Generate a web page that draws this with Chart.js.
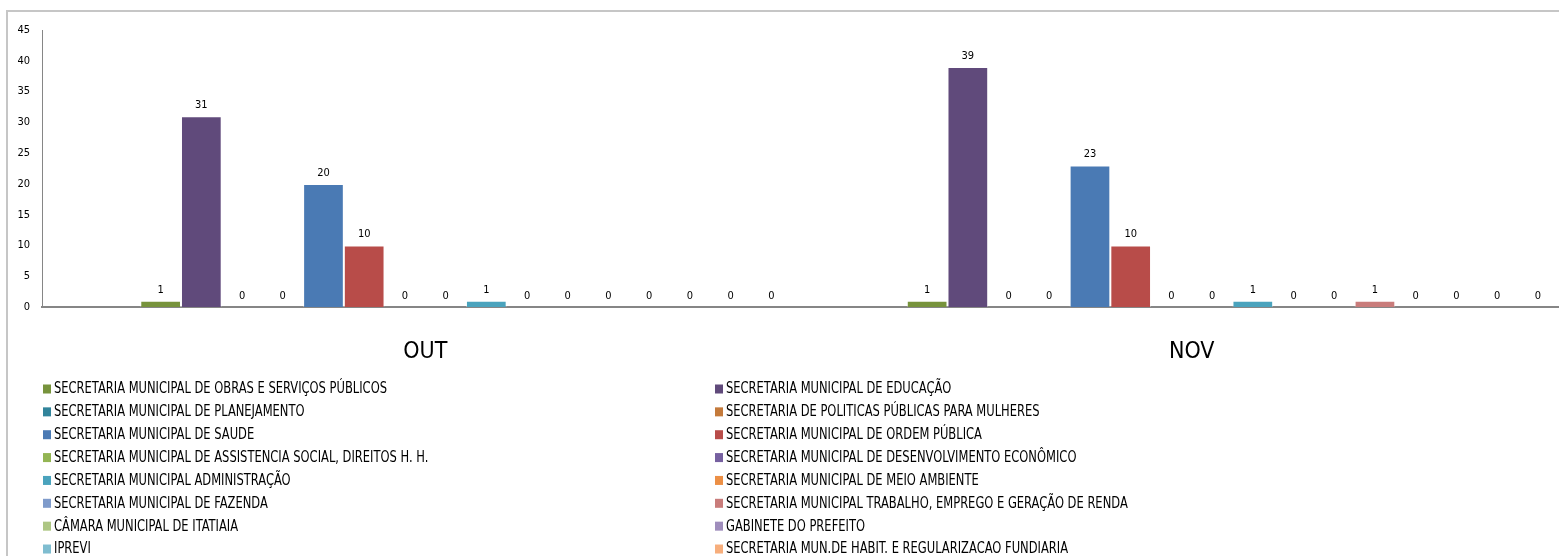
<!DOCTYPE html>
<html>
<head>
<meta charset="utf-8">
<script src="https://cdn.jsdelivr.net/npm/chart.js"></script>
<style>
  html, body { margin: 0; padding: 0; background: #fff; overflow: hidden; }
  #wrap { position: absolute; left: 0; top: 0; width: 1559px; height: 556px; overflow: hidden; }
</style>
</head>
<body>
<div id="wrap"><canvas id="chart" width="1600" height="556"></canvas></div>
<script>
const FONT = '"Liberation Sans Narrow", "DejaVu Sans Condensed", "Open Sans", sans-serif';

const months = ['OUT', 'NOV'];

// the two first series are empty in the sheet (they keep their slot in each group)
const secretarias = [
  '',
  '',
  'SECRETARIA MUNICIPAL DE OBRAS E SERVIÇOS PÚBLICOS',
  'SECRETARIA MUNICIPAL DE EDUCAÇÃO',
  'SECRETARIA MUNICIPAL DE PLANEJAMENTO',
  'SECRETARIA DE POLITICAS PÚBLICAS PARA MULHERES',
  'SECRETARIA MUNICIPAL DE SAUDE',
  'SECRETARIA MUNICIPAL DE ORDEM PÚBLICA',
  'SECRETARIA MUNICIPAL DE ASSISTENCIA SOCIAL, DIREITOS H. H.',
  'SECRETARIA MUNICIPAL DE DESENVOLVIMENTO ECONÔMICO',
  'SECRETARIA MUNICIPAL ADMINISTRAÇÃO',
  'SECRETARIA MUNICIPAL DE MEIO AMBIENTE',
  'SECRETARIA MUNICIPAL DE FAZENDA',
  'SECRETARIA MUNICIPAL TRABALHO, EMPREGO E GERAÇÃO DE RENDA',
  'CÂMARA MUNICIPAL DE ITATIAIA',
  'GABINETE DO PREFEITO',
  'IPREVI',
  'SECRETARIA MUN.DE HABIT. E REGULARIZACAO FUNDIARIA',
];

const valoresOut = [null, null, 1, 31, 0, 0, 20, 10, 0, 0, 1, 0, 0, 0, 0, 0, 0, 0];
const valoresNov = [null, null, 1, 39, 0, 0, 23, 10, 0, 0, 1, 0, 0, 1, 0, 0, 0, 0];

const cores = [
  '#385d8a', '#8c3836',
  '#77933c', '#604a7b', '#31849b', '#c47a3b',
  '#4a7ab4', '#b84c49', '#93b553', '#7660a0',
  '#4aa3bd', '#ec8f45', '#7f9bcb', '#c97c7b',
  '#adc683', '#9f8dbc', '#7fbdd0', '#f7ae7c',
];

const yMax = 45;
const yStep = 5;

// outer chart border (only left and top are inside the picture)
const frame = {
  id: 'frame',
  beforeDraw(chart) {
    const ctx = chart.ctx;
    ctx.save();
    ctx.strokeStyle = '#c6c6c6';
    ctx.lineWidth = 2;
    ctx.beginPath();
    ctx.moveTo(7, chart.height);
    ctx.lineTo(7, 11);
    ctx.lineTo(chart.width, 11);
    ctx.stroke();
    ctx.restore();
  },
};

const valueLabels = {
  id: 'valueLabels',
  afterDatasetsDraw(chart) {
    const ctx = chart.ctx;
    ctx.save();
    ctx.font = '11px ' + FONT;
    ctx.fillStyle = '#000';
    ctx.textAlign = 'center';
    ctx.textBaseline = 'alphabetic';
    chart.data.datasets.forEach((ds, i) => {
      chart.getDatasetMeta(i).data.forEach((bar, j) => {
        const v = ds.data[j];
        if (v === null) return;
        ctx.fillText(String(v), bar.x, bar.y - 8);
      });
    });
    ctx.restore();
  },
};

// legend in two columns, read row by row; text squeezed a bit like the original
const legendCols = {
  id: 'legendCols',
  afterDraw(chart) {
    const ctx = chart.ctx;
    ctx.save();
    ctx.font = '15px ' + FONT;
    ctx.textBaseline = 'middle';
    const items = chart.data.datasets.filter(ds => ds.label);
    const squeeze = Math.min(1, 333 / ctx.measureText(items[0].label).width);
    items.forEach((ds, k) => {
      const col = k % 2;
      const row = Math.floor(k / 2);
      const x = col ? 715 : 43;
      const y = 389.5 + row * 22.86;
      ctx.fillStyle = ds.backgroundColor;
      ctx.fillRect(x, y - 5, 8, 9);
      ctx.fillStyle = '#000';
      ctx.save();
      ctx.translate(x + 11, y);
      ctx.scale(squeeze, 1);
      ctx.fillText(ds.label, 0, 0);
      ctx.restore();
    });
    ctx.restore();
  },
};

new Chart(document.getElementById('chart'), {
  type: 'bar',
  data: {
    labels: months,
    datasets: secretarias.map((nome, i) => ({
      label: nome,
      data: [valoresOut[i], valoresNov[i]],
      backgroundColor: cores[i],
      borderColor: 'rgba(255,255,255,0.35)',
      borderWidth: 1,
      categoryPercentage: 0.956,
      barPercentage: 1,
    })),
  },
  options: {
    responsive: false,
    animation: false,
    devicePixelRatio: 1,
    layout: { padding: { left: 0, top: 30, right: 25, bottom: 189 } },
    plugins: {
      legend: { display: false },
      tooltip: { enabled: false },
    },
    scales: {
      x: {
        grid: { display: false, drawTicks: false },
        border: { color: '#868686', width: 2 },
        ticks: { color: '#000', padding: 31, font: { family: FONT, size: 23 } },
        afterFit: s => { s.height = 60; },
      },
      y: {
        min: 0,
        max: yMax,
        grid: { display: false, drawTicks: false },
        border: { color: '#868686', width: 1 },
        ticks: { stepSize: yStep, color: '#000', padding: 12, font: { family: FONT, size: 11 } },
        afterFit: s => { s.width = 42; },
      },
    },
  },
  plugins: [frame, valueLabels, legendCols],
});
</script>
</body>
</html>
